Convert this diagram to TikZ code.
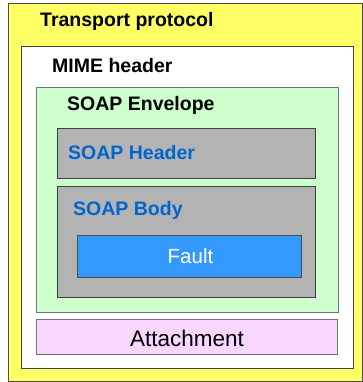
\documentclass[tikz,border=0pt]{standalone}
\usepackage{fontspec}
\setmainfont{Liberation Sans}
\definecolor{transportyellow}{RGB}{255,255,102}
\definecolor{envgreen}{RGB}{204,255,204}
\definecolor{partgray}{RGB}{179,179,179}
\definecolor{faultblue}{RGB}{51,153,255}
\definecolor{attachpink}{RGB}{247,214,255}
\definecolor{soapblue}{RGB}{0,102,204}
\tikzset{
  layer/.style={line width=1pt, draw=black!55},
  title/.style={anchor=base west, inner sep=0pt, font=\fontsize{19.5}{22}\selectfont\bfseries},
  plain/.style={anchor=base, inner sep=0pt, font=\fontsize{20.5}{24}\selectfont},
}
\begin{document}
\begin{tikzpicture}[x=1pt, y=-1pt]
    \useasboundingbox (0,0) rectangle (363,382);

    % Transport protocol
    \draw[layer, draw=black!70, fill=transportyellow] (8,4) rectangle (362,381);
    \node[title] (transport) at (40,27) {Transport protocol};

    % MIME header
    \draw[layer, draw=black!75, fill=white] (21,47) rectangle (353,368);
    \node[title] (mime) at (52,73) {MIME header};

    % SOAP Envelope
    \draw[layer, fill=envgreen] (36,88) rectangle (338,312);
    \node[title] (envelope) at (67,111) {SOAP Envelope};

    % Header and Body
    \draw[layer, draw=black!75, fill=partgray] (57,129) rectangle (315,178);
    \node[title, text=soapblue] (header) at (68,159) {SOAP Header};
    \draw[layer, draw=black!75, fill=partgray] (57,186) rectangle (315,297);
    \node[title, text=soapblue] (body) at (73,215) {SOAP Body};

    % Fault inside the body
    \draw[layer, draw=black!70, fill=faultblue] (77,235) rectangle (301,277);
    \node[plain, text=white] (fault) at (190.5,263) {Fault};

    % Attachment
    \draw[layer, fill=attachpink] (36,319) rectangle (337,354);
    \node[plain, font=\fontsize{22.5}{26}\selectfont] (attach) at (187,346) {Attachment};
\end{tikzpicture}
\end{document}
